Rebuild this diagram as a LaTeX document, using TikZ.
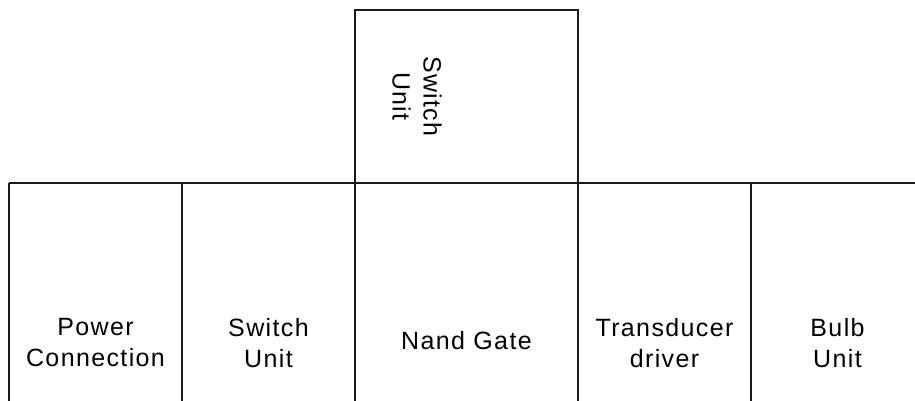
\documentclass[tikz,border=0pt]{standalone}
\usepackage{fontspec}
\setmainfont{Liberation Sans}[LetterSpace=5.5]
\begin{document}
\begin{tikzpicture}[x=1pt,y=-1pt,
  frame/.style={draw=black!90,line width=1.2pt},
  lbl/.style={font=\fontsize{25}{31}\selectfont,align=center,inner sep=0pt}]
  \useasboundingbox[fill=white] (0,0) rectangle (915,401);
  % top block
  \node[frame,minimum width=223pt,minimum height=173pt,inner sep=0pt] (top) at (466.5,96.5) {};
  % column dividers
  \coordinate (h0) at (9,183);
  \coordinate (h1) at (915,183);
  \draw[frame] (h0) -- (h1);
  \foreach \x [count=\i] in {9,182,355,578,751} {
    \coordinate (c\i t) at (\x,183);
    \coordinate (c\i b) at (\x,401);
    \draw[frame] (c\i t) -- (c\i b);
  }
  % labels
  \node[lbl,rotate=-90] (sw2) at (417,96.5) {Switch\\Unit};
  \node[lbl] (pc) at (95.5,343) {Power\\Connection};
  \node[lbl] (sw) at (268.5,343) {Switch\\Unit};
  \node[lbl] (nand) at (466.5,340.5) {Nand Gate};
  \node[lbl] (td) at (664.5,343) {Transducer\\driver};
  \node[lbl] (bulb) at (837.5,343) {Bulb\\Unit};
\end{tikzpicture}
\end{document}
